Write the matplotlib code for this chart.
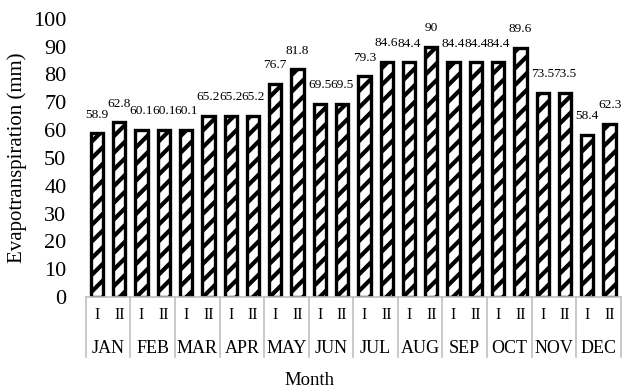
import matplotlib
matplotlib.use("Agg")
import matplotlib.pyplot as plt
from matplotlib.transforms import blended_transform_factory

plt.rcParams['font.family'] = ['Liberation Serif', 'DejaVu Serif']
plt.rcParams['hatch.linewidth'] = 3.0

# ---- data ----
MONTHS = ['JAN', 'FEB', 'MAR', 'APR', 'MAY', 'JUN',
          'JUL', 'AUG', 'SEP', 'OCT', 'NOV', 'DEC']
HALVES = ['I', 'II']
ET_I = [58.9, 60.1, 60.1, 65.2, 76.7, 69.5, 79.3, 84.4, 84.4, 84.4, 73.5, 58.4]
ET_II = [62.8, 60.1, 65.2, 65.2, 81.8, 69.5, 84.6, 90, 84.4, 89.6, 73.5, 62.3]
Y_TICKS = [0, 10, 20, 30, 40, 50, 60, 70, 80, 90, 100]

values = [v for pair in zip(ET_I, ET_II) for v in pair]
sub_labels = HALVES * len(MONTHS)
x = list(range(len(values)))

fig = plt.figure(figsize=(6.22, 3.92), dpi=100)
ax = fig.add_axes([0.138, 0.242, 0.86, 0.71])

ax.bar(x, values, width=0.55, color='white', edgecolor='black',
       linewidth=2.4, hatch='//')

for xi, v in zip(x, values):
    ax.text(xi, v + 4.5, f'{v:g}', ha='center', va='bottom', fontsize=9.6)

ax.set_xlim(-0.5, len(values) - 0.5)
ax.set_ylim(0, 100)
ax.set_yticks(Y_TICKS)
ax.tick_params(axis='y', length=0, pad=14, labelsize=16)
ax.set_xticks([])
for s in ['top', 'right', 'left']:
    ax.spines[s].set_visible(False)
ax.spines['bottom'].set_color('#bfbfbf')
ax.spines['bottom'].set_linewidth(1.2)

# two-level category axis
trans = blended_transform_factory(ax.transData, ax.transAxes)
for xi, lab in zip(x, sub_labels):
    ax.text(xi, -0.065, lab, transform=trans, ha='center', va='center', fontsize=11.5)
for i, m in enumerate(MONTHS):
    ax.text(2 * i + 0.5, -0.185, m, transform=trans, ha='center', va='center', fontsize=13)
for i in range(len(MONTHS) + 1):
    ax.plot([2 * i - 0.5, 2 * i - 0.5], [0, -0.215], transform=trans,
            color='#bfbfbf', lw=1.2, clip_on=False)

ax.set_ylabel('Evapotranspiration (mm)', fontsize=15, labelpad=4)
fig.text(0.498, 0.03, 'Month', ha='center', va='center', fontsize=13.5)

fig.savefig('out.png', dpi=100)
